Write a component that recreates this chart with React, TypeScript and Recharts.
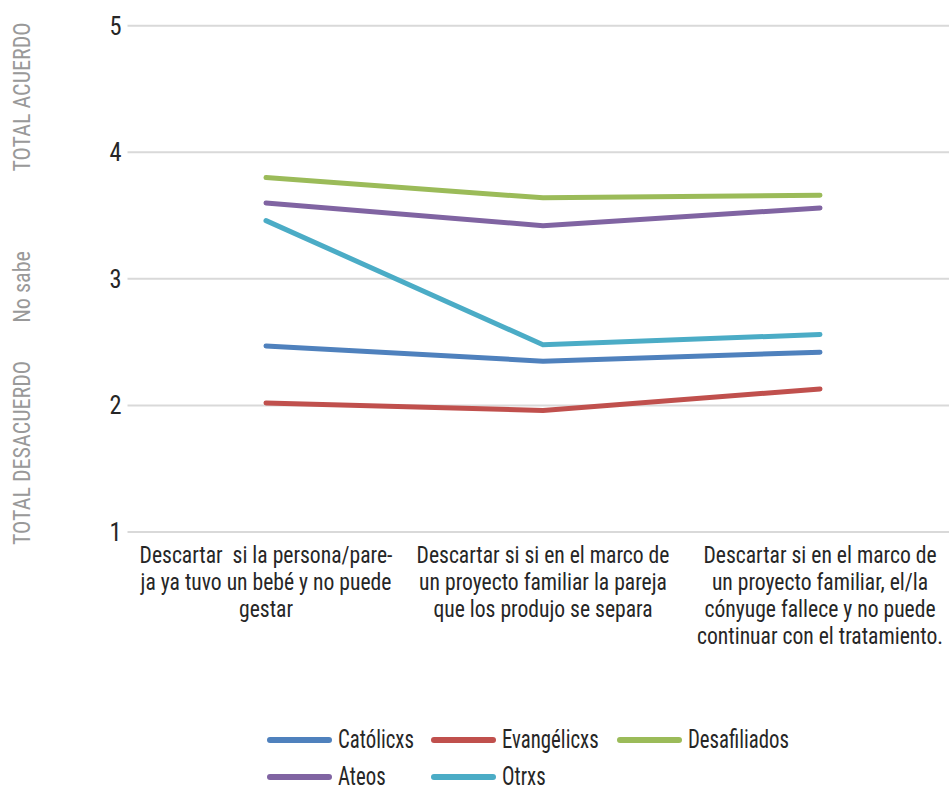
import React from "react";
import { LineChart, Line, XAxis, YAxis, CartesianGrid } from "recharts";

const categories = [
  "Descartar  si la persona/pareja ya tuvo un bebé y no puede gestar",
  "Descartar si si en el marco de un proyecto familiar la pareja que los produjo se separa",
  "Descartar si en el marco de un proyecto familiar, el/la cónyuge fallece y no puede continuar con el tratamiento.",
];
const categoryLines = [
  ["Descartar  si la persona/pare-", "ja ya tuvo un bebé y no puede", "gestar"],
  ["Descartar si si en el marco de", "un proyecto familiar la pareja", "que los produjo se separa"],
  ["Descartar si en el marco de", "un proyecto familiar, el/la", "cónyuge fallece y no puede", "continuar con el tratamiento."],
];
const catolicxs = [2.47, 2.35, 2.42];
const evangelicxs = [2.02, 1.96, 2.13];
const desafiliados = [3.8, 3.64, 3.66];
const ateos = [3.6, 3.42, 3.56];
const otrxs = [3.46, 2.48, 2.56];
const yTicks = [1, 2, 3, 4, 5];
const sideLabels = ["TOTAL ACUERDO", "No sabe", "TOTAL DESACUERDO"];

const series = [
  { key: "Católicxs", values: catolicxs, color: "#4F81BD" },
  { key: "Evangélicxs", values: evangelicxs, color: "#C0504D" },
  { key: "Desafiliados", values: desafiliados, color: "#9BBB59" },
  { key: "Ateos", values: ateos, color: "#8064A2" },
  { key: "Otrxs", values: otrxs, color: "#4BACC6" },
];

const data = categories.map((c, i) => {
  const row: Record<string, any> = { category: c, idx: i };
  series.forEach((s) => (row[s.key] = s.values[i]));
  return row;
});

const FONT = "'Roboto Condensed', 'Liberation Sans Narrow', 'Arial Narrow', 'DejaVu Sans Condensed', sans-serif";
const SX = 0.94;

const XTick = (props: any) => {
  const { x, y, index } = props;
  const lines = categoryLines[index] || [];
  return (
    <g transform={`translate(${x},${y}) scale(${SX},1)`}>
      {lines.map((l, i) => (
        <text key={i} x={0} y={21 + i * 27} textAnchor="middle" fontSize={23} fill="#262626" fontFamily={FONT} style={{ whiteSpace: "pre" }}>
          {l}
        </text>
      ))}
    </g>
  );
};

const YTick = (props: any) => {
  const { x, y, payload } = props;
  return (
    <g transform={`translate(${x},${y}) scale(${SX},1)`}>
      <text x={0} y={9} textAnchor="end" fontSize={26} fill="#262626" fontFamily={FONT}>
        {payload.value}
      </text>
    </g>
  );
};

export default function App() {
  return (
    <div style={{ position: "fixed", left: 0, top: 0, width: 949, height: 786, overflow: "hidden", background: "#fff" }}>
      <LineChart width={960} height={786} data={data} margin={{ top: 25.7, right: 1.5, bottom: 0, left: 67.5 }}>
        <CartesianGrid vertical={false} stroke="#d9d9d9" strokeWidth={2} />
        <XAxis dataKey="category" axisLine={false} tickLine={false} interval={0} height={254} tick={<XTick />} tickMargin={4} padding={{ left: 138.5, right: 138.5 }} />
        <YAxis domain={[1, 5]} ticks={yTicks} width={60} axisLine={false} tickLine={false} tick={<YTick />} tickMargin={0} />
        {series.map((s) => (
          <Line key={s.key} dataKey={s.key} stroke={s.color} strokeWidth={5} strokeLinecap="round" dot={false} activeDot={false} isAnimationActive={false} type="linear" />
        ))}
      </LineChart>
      <svg width={60} height={560} style={{ position: "absolute", left: 0, top: 0 }}>
        {[97, 287, 453].map((cy, i) => (
          <text key={i} transform={`translate(30,${cy}) rotate(-90) scale(${SX},1)`} textAnchor="middle" fontSize={23.5} fill="#999" fontFamily={FONT}>
            {sideLabels[i]}
          </text>
        ))}
      </svg>
      <div style={{ position: "absolute", left: 267, top: 721, display: "grid", gridTemplateColumns: "164px 186px 170px", gridAutoRows: "37px", fontFamily: FONT }}>
        {series.map((s) => (
          <div key={s.key} style={{ display: "flex", alignItems: "center", height: 37 }}>
            <div style={{ width: 65, height: 6, borderRadius: 3, background: s.color, marginRight: 6, flexShrink: 0 }} />
            <span style={{ fontSize: 26, lineHeight: "37px", color: "#262626", display: "inline-block", transform: "scale(0.8,1)", transformOrigin: "left center", whiteSpace: "nowrap", flexShrink: 0 }}>{s.key}</span>
          </div>
        ))}
      </div>
    </div>
  );
}
